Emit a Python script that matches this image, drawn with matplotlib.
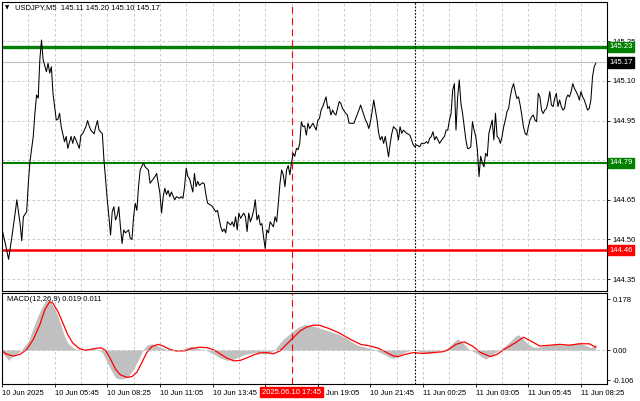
import matplotlib.pyplot as plt
import matplotlib.transforms as mtransforms

plt.rcParams['font.family'] = ['Liberation Sans', 'DejaVu Sans']

# USDJPY M5 close prices, x = bar index
price_bars = [0, 2, 4, 6, 8, 9, 11, 12, 13, 15, 16, 17, 19, 20, 21, 22, 23, 24, 25, 27, 28, 29, 30, 31, 32, 33, 34, 35, 36, 38,
              39, 40, 42, 43, 44, 45, 47, 48, 49, 51, 52, 53, 54, 56, 57, 58, 59, 61, 62, 63, 64, 65, 66, 67, 68, 69, 70, 71, 72, 73,
              74, 75, 77, 78, 79, 80, 81, 82, 83, 84, 86, 87, 89,
              90, 92, 93, 94, 96, 97, 98, 99, 100, 101, 102, 103, 105, 106, 108, 109, 110, 111, 112, 113, 114, 116, 117, 118, 119, 120,
              122, 123, 124, 125, 127, 128, 130, 131, 133, 134, 135, 136, 137, 139, 140, 141, 142, 143, 144, 145, 147, 148, 149, 150,
              151, 152, 153, 154, 155, 156, 157, 158, 159, 160, 161, 162, 163, 165, 166, 167, 168, 169, 170, 171, 172, 173, 174, 175,
              176, 177, 178, 179, 180, 181, 182,
              183, 184, 185, 186, 187, 188, 189, 190, 191, 192, 193, 194, 195, 197, 198, 199, 200, 201, 202, 203, 204, 205, 206, 207,
              209, 210, 211, 213, 214, 215, 217, 218, 219, 220, 221, 222, 223, 224, 225, 226, 227, 228, 229, 230, 231, 232, 233, 235,
              236, 237, 238, 240, 241, 242, 243, 244, 245, 246, 248, 249, 250, 251, 252, 254, 255, 257, 258, 259, 260, 261, 262, 263,
              264, 265, 266, 268, 269, 270, 271, 272, 273, 274, 275,
              276, 277, 278, 279, 280, 281, 282, 283, 284, 285, 286, 287, 288, 289, 290, 291, 292, 293, 294, 295, 296, 297, 298, 299,
              300, 301, 302, 303, 304, 305, 306, 307, 308, 309, 310, 311, 312, 313, 314, 315, 316, 317, 318, 319, 320, 321, 322, 323,
              324, 325, 326, 327, 328, 329, 330, 331, 332, 333, 334, 335, 336, 337, 338, 339, 340, 341, 342, 343, 344, 345, 346, 347,
              348, 349, 350, 351, 352, 353, 354, 355, 356, 357, 358, 359, 360, 361]
price_vals = [144.54, 144.485, 144.425, 144.51, 144.60, 144.65, 144.56, 144.495, 144.586, 144.605, 144.713, 144.795, 144.89, 144.978,
              145.047, 145.035, 145.18, 145.255, 145.18, 145.135, 145.167, 145.13, 145.154, 145.053, 145.003, 144.952, 144.955,
              144.978, 144.927, 144.87, 144.89, 144.845, 144.89, 144.864, 144.89, 144.876, 144.845, 144.895, 144.90, 144.927, 144.95,
              144.93, 144.914, 144.90, 144.927, 144.95, 144.914, 144.90, 144.80, 144.725, 144.65, 144.586, 144.517, 144.605, 144.624,
              144.574, 144.59, 144.624, 144.548, 144.485, 144.536, 144.525, 144.536, 144.504, 144.50, 144.586, 144.637, 144.61,
              144.70, 144.763, 144.79, 144.775, 144.763,
              144.713, 144.73, 144.738, 144.75, 144.675, 144.60, 144.662, 144.694, 144.67, 144.686, 144.662, 144.68, 144.65, 144.662,
              144.656, 144.662, 144.656, 144.70, 144.77, 144.738, 144.73, 144.68, 144.75, 144.70, 144.72, 144.705, 144.715, 144.71,
              144.668, 144.637, 144.63, 144.624, 144.605, 144.61, 144.548, 144.53, 144.54, 144.525, 144.567, 144.555, 144.567,
              144.548, 144.586, 144.536, 144.60, 144.58, 144.60, 144.586, 144.53, 144.60, 144.567, 144.586, 144.61, 144.65, 144.574,
              144.593, 144.555, 144.56, 144.51, 144.466, 144.536, 144.525, 144.567, 144.548, 144.586, 144.567, 144.637, 144.713,
              144.763, 144.745, 144.70, 144.763, 144.78, 144.745, 144.79, 144.826, 144.815, 144.845, 144.84, 144.864, 144.946,
              144.927, 144.93, 144.895, 144.94, 144.92, 144.93, 144.94, 144.927, 144.914, 144.952, 144.958, 144.99, 145.003, 145.04,
              144.996, 145.003, 144.971, 144.99, 144.977, 144.971, 144.996, 145.022, 145.015, 144.996, 144.977, 144.971, 144.94,
              144.94, 144.94, 144.958, 144.99, 145.009, 144.99, 144.971, 144.952, 144.94, 144.92, 144.946, 144.984, 145.028, 144.99,
              144.952, 144.902, 144.877, 144.89, 144.864, 144.89, 144.813, 144.864, 144.902, 144.927, 144.914, 144.877, 144.927,
              144.902, 144.914, 144.908, 144.902, 144.895, 144.877, 144.858, 144.851, 144.858, 144.851, 144.864, 144.864, 144.87,
              144.864, 144.883, 144.89, 144.908, 144.877, 144.89, 144.877, 144.864, 144.883, 144.89, 144.914, 144.914, 144.952,
              144.977, 145.066, 145.09,
              144.914, 145.04, 145.104, 145.015, 144.977, 144.927, 144.877, 144.845, 144.845, 144.851, 144.946, 144.914, 144.89,
              144.84, 144.738, 144.815, 144.79, 144.775, 144.826, 144.815, 144.902, 144.927, 144.952, 144.877, 144.978, 144.89,
              144.883, 144.864, 144.89, 144.927, 144.952, 144.984, 144.996, 145.04, 145.072, 145.09, 145.06, 145.034, 145.04,
              145.009, 144.971, 144.927, 144.902, 144.895, 144.927, 144.952, 144.965, 144.971, 144.952, 144.946, 145.053, 145.04,
              144.99, 144.977, 144.99, 144.996, 145.022, 145.06, 145.009, 145.003, 145.034, 145.053, 145.003, 145.028, 145.003,
              144.99, 144.996, 145.034, 145.047, 145.04, 145.06, 145.09, 145.072, 145.06, 145.047, 145.028, 145.06, 145.04, 145.028,
              145.009, 144.99, 144.996, 145.028, 145.116, 145.154, 145.167]

# MACD(12,26,9) histogram and signal line
hist_bars = [0, 4, 7, 11, 16, 19, 22, 25, 27, 30, 32, 34, 36, 38, 40, 42, 45, 48, 51, 55, 58, 61, 63, 65, 67, 69, 71, 74, 77, 80,
             82, 84, 86, 88, 91, 94, 97, 100, 104, 108, 112, 115, 118, 122, 125, 129, 133, 137, 141, 144, 147, 150, 153, 157, 160,
             163, 166, 169, 172, 175, 178, 181, 184, 187, 190, 193, 196, 199, 202, 205, 209, 212, 215, 218, 221, 224, 227, 230,
             233, 236, 238, 241, 244, 247, 250, 253, 256, 259, 262, 265, 268, 271, 274, 277, 279, 281, 284, 288, 291, 294, 297,
             300, 303, 306, 309, 312, 314, 317, 320, 323, 326, 329, 332, 335, 338, 341, 344, 347, 350, 353, 356, 358, 361]
hist_vals = [-0.009, -0.036, -0.02, -0.005, 0.031, 0.077, 0.123, 0.158, 0.176, 0.164, 0.146, 0.118, 0.083, 0.048, 0.025, 0.014,
             0.002, -0.003, 0.002, 0.006, 0.002, -0.009, -0.032, -0.055, -0.078, -0.096, -0.101, -0.101, -0.09, -0.067, -0.044,
             -0.021, 0.002, 0.017, 0.022, 0.017, 0.008, 0.002, -0.003, -0.001, 0.008, 0.013, 0.008, 0.002, -0.003, -0.015, -0.029,
             -0.036, -0.032, -0.024, -0.017, -0.013, -0.009, -0.009, -0.015, -0.009, 0.002, 0.025, 0.043, 0.057, 0.072, 0.083,
             0.089, 0.087, 0.083, 0.077, 0.072, 0.066, 0.06, 0.054, 0.043, 0.031, 0.02, 0.014, 0.010, 0.006, -0.001, -0.009,
             -0.017, -0.027, -0.029, -0.021, -0.009, -0.003, -0.001, -0.003, -0.009, -0.012, -0.007, -0.003, -0.001, 0.008, 0.025,
             0.04, 0.031, 0.02, 0.002, -0.009, -0.021, -0.032, -0.021, -0.009, 0.002, 0.014, 0.031, 0.048, 0.054, 0.037, 0.02,
             0.01, 0.01, 0.014, 0.016, 0.02, 0.02, 0.017, 0.02, 0.022, 0.025, 0.02, 0.014, 0.008, 0.022]
signal_bars = [0, 3, 7, 11, 15, 19, 23, 26, 29, 31, 34, 37, 40, 43, 47, 51, 56, 60, 63, 66, 69, 72, 76, 79, 82, 85, 88, 91, 95, 98,
               102, 106, 111, 115, 120, 125, 129, 133, 137, 141, 145, 149, 153, 157, 161, 165, 169, 173, 177, 181, 185, 189, 193,
               199, 205, 212, 218, 224, 229, 234, 238, 241, 245, 250, 256, 262, 268, 271, 276, 281, 286, 291, 297, 301, 306, 312,
               317, 321, 327, 333, 339, 345, 351, 357, 361]
signal_vals = [-0.003, -0.015, -0.021, -0.015, 0.002, 0.037, 0.089, 0.141, 0.170, 0.164, 0.135, 0.095, 0.054, 0.025, 0.005, -0.001,
               0.005, 0.008, -0.001, -0.032, -0.067, -0.087, -0.096, -0.093, -0.078, -0.044, -0.009, 0.012, 0.02, 0.014, 0.002,
               -0.003, -0.003, 0.005, 0.01, 0.008, 0.0, -0.015, -0.029, -0.038, -0.036, -0.027, -0.017, -0.010, -0.009, -0.013,
               -0.003, 0.02, 0.043, 0.066, 0.08, 0.087, 0.087, 0.075, 0.06, 0.037, 0.02, 0.014, 0.006, -0.009, -0.021, -0.023,
               -0.015, -0.009, -0.012, -0.009, -0.006, 0.0, 0.02, 0.029, 0.014, -0.009, -0.023, -0.015, 0.005, 0.025, 0.045,
               0.033, 0.014, 0.017, 0.02, 0.017, 0.022, 0.022, 0.01]

# 144.80 grid line has its label hidden behind the 144.79 level tag
price_grid = [145.25, 145.10, 144.95, 144.80, 144.65, 144.50, 144.35]
price_labels = ['145.25', '145.10', '144.95', '', '144.65', '144.50', '144.35']
levels_green = [145.23, 144.79]
level_red = 144.46
last_price = 145.17
# 16:25 label is covered by the cursor time tag
time_ticks = [0, 32, 64, 96, 128, 160, 192, 224, 256, 288, 320, 352]
time_labels = ['10 Jun 2025', '10 Jun 05:45', '10 Jun 08:25', '10 Jun 11:05', '10 Jun 13:45', '',
               'Jun 19:05', '10 Jun 21:45', '11 Jun 00:25', '11 Jun 03:05', '11 Jun 05:45', '11 Jun 08:25']
cursor_bar = 176
day_sep_bar = 251

fig = plt.figure(figsize=(6.4, 4.01), dpi=100)
ax = fig.add_axes([2 / 640, 110 / 401, 605 / 640, 289 / 401])
ax2 = fig.add_axes([2 / 640, 17 / 401, 605 / 640, 91 / 401])

fs = 5.5
grid_style = dict(color='#c0c0c0', ls=(0, (3, 3)), lw=0.6)

# main price panel
ax.set_xlim(0, 367.8)
ax.set_ylim(144.305, 145.399)
ax.set_xticks(range(16, 368, 16))
ax.tick_params(axis='x', length=0, labelbottom=False)
ax.yaxis.tick_right()
ax.set_yticks(price_grid)
ax.set_yticklabels(price_labels)
ax.tick_params(axis='y', length=2.5, width=0.6, labelsize=fs, pad=1.5)
ax.grid(True, **grid_style)
ax.set_axisbelow(True)

ax.axhline(last_price, color='#c0c0c0', lw=0.8)
ax.axhline(levels_green[0], color='#008000', lw=2.4)
ax.axhline(levels_green[1], color='#008000', lw=1.5)
ax.axhline(level_red, color='#ff0000', lw=1.8)
ax.axvline(cursor_bar, color='#ff0000', ls=(0, (6, 4)), lw=0.8)
ax.axvline(day_sep_bar, color='black', ls=(0, (1.5, 1.5)), lw=0.8)
ax.plot(price_bars, price_vals, color='black', lw=0.75)

ytr = ax.get_yaxis_transform()
for val, col in [(levels_green[0], '#008000'), (last_price, 'black'),
                 (levels_green[1], '#008000'), (level_red, '#ff0000')]:
    ax.text(1.004, val, f'{val:.2f}', transform=ytr, ha='left', va='center', fontsize=fs, color='white',
            bbox=dict(boxstyle='square,pad=0.2', fc=col, ec=col), zorder=6, clip_on=False)

fig.text(5 / 640, 1 - 8 / 401, '\u25bc', fontsize=4, va='center', family='DejaVu Sans')
fig.text(15 / 640, 1 - 8 / 401, 'USDJPY,M5  145.11 145.20 145.10 145.17', fontsize=fs, va='center')

# MACD panel
ax2.set_xlim(0, 367.8)
ax2.set_ylim(-0.119, 0.200)
ax2.fill_between(hist_bars, 0, hist_vals, color='#c0c0c0', lw=0)
ax2.plot(signal_bars, signal_vals, color='#ff0000', lw=0.9)
ax2.axhline(0, **grid_style)
ax2.axvline(cursor_bar, color='#ff0000', ls=(0, (6, 4)), lw=0.8)
ax2.axvline(day_sep_bar, color='black', ls=(0, (1.5, 1.5)), lw=0.8)
ax2.set_xticks(time_ticks)
ax2.set_xticklabels(time_labels, ha='left')
ax2.set_xticks(range(16, 368, 32), minor=True)
ax2.tick_params(axis='x', which='major', length=2.5, width=0.6, labelsize=fs, pad=1.5)
ax2.tick_params(axis='x', which='minor', length=0)
ax2.grid(True, axis='x', which='both', **grid_style)
ax2.set_axisbelow(True)
ax2.yaxis.tick_right()
ax2.set_yticks([0.178, 0.0, -0.106])
ax2.set_yticklabels(['0.178', '0.00', '-0.106'])
ax2.tick_params(axis='y', length=2.5, width=0.6, labelsize=fs, pad=1.5)
ax2.text(5 / 605, 0.93, 'MACD(12,26,9) 0.019 0.011', transform=ax2.transAxes, fontsize=fs, va='center')

# "Jun 19:05" tick label sits just right of the cursor tag
lab = ax2.get_xticklabels()[6]
lab.set_x(192)
lab.set_transform(lab.get_transform() + mtransforms.ScaledTranslation(8 / 100, 0, fig.dpi_scale_trans))

xtr = mtransforms.blended_transform_factory(ax2.transData, ax2.transAxes)
ax2.text(cursor_bar, -0.088, '2025.06.10 17:45', transform=xtr, ha='center', va='center', fontsize=fs, color='white',
         bbox=dict(boxstyle='square,pad=0.2', fc='#ff0000', ec='#ff0000'), zorder=6, clip_on=False)

for a in (ax, ax2):
    for sp in a.spines.values():
        sp.set_linewidth(0.8)

fig.savefig('out.png', dpi=100)
